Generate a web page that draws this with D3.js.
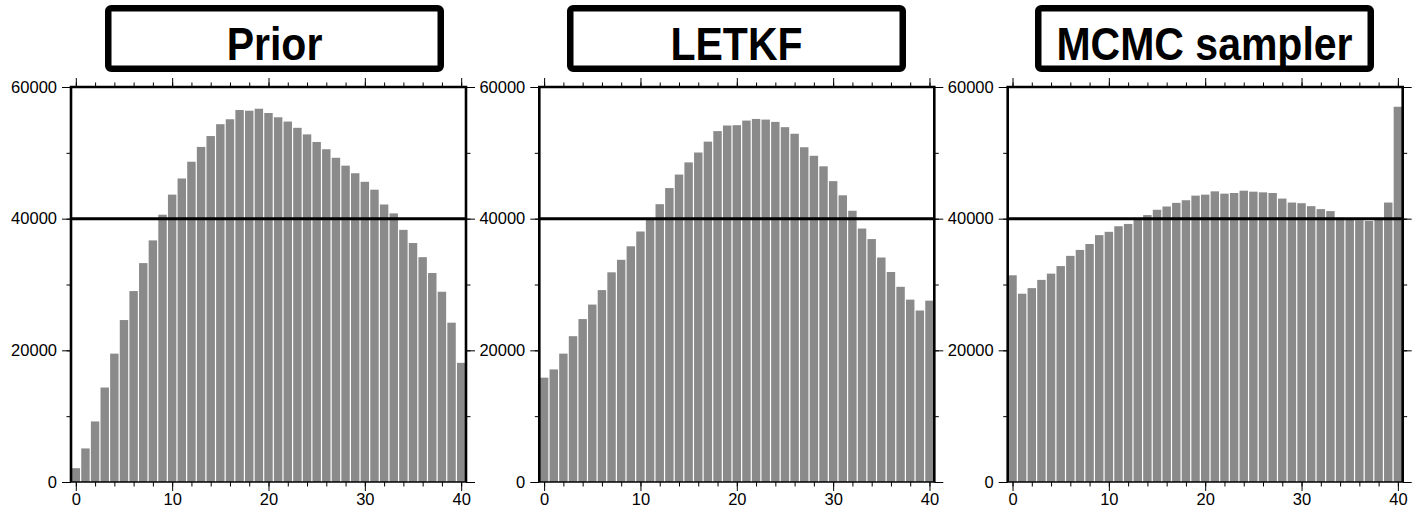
<!DOCTYPE html>
<html>
<head>
<meta charset="utf-8">
<script src="https://cdn.jsdelivr.net/npm/d3@7"></script>
<style>
  body { margin: 0; background: #fff; }
  svg { display: block; }
  text { font-family: "Liberation Sans", Arial, Helvetica, sans-serif; fill: #000; }
  .tick line { stroke: #000; stroke-width: 1; }
  .domain { display: none; }
</style>
</head>
<body>
<div id="chart"></div>
<script>
// bin indices 0..40 (rank histogram)
var bins = d3.range(0, 41);

var titles = ["Prior", "LETKF", "MCMC sampler"];

var priorCounts = [
  2100, 5100, 9200, 14350, 19500, 24600, 29000, 33250, 36700, 40600,
  43650, 46100, 48650, 50900, 52550, 54350, 55100, 56500, 56400, 56700,
  56050, 55400, 54750, 53800, 52800, 51650, 50550, 49250, 48050, 46900,
  45600, 44400, 42150, 40800, 38300, 36300, 34150, 31750, 28900, 24200,
  18100
];

var letkfCounts = [
  15850, 17100, 19500, 22150, 24750, 26950, 29150, 31850, 33750, 35800,
  38050, 40100, 42200, 44650, 46700, 48550, 50050, 51700, 53300, 54150,
  54200, 54900, 55150, 55050, 54700, 53900, 52900, 50850, 49550, 47950,
  45700, 43550, 41200, 38500, 36900, 34100, 31900, 29650, 27700, 26050,
  27550
];

var mcmcCounts = [
  31400, 28600, 29450, 30700, 31650, 32800, 34350, 35250, 36150, 37500,
  38000, 38850, 39200, 39800, 40550, 41350, 41850, 42400, 42800, 43500,
  43650, 44150, 43800, 43900, 44250, 44100, 44000, 43900, 43050, 42450,
  42350, 41900, 41450, 41150, 40150, 39950, 39750, 39650, 39850, 42450,
  57000
];

var series = [priorCounts, letkfCounts, mcmcCounts];

var xMajorTicks = [0, 10, 20, 30, 40];
var xMinorTicks = d3.range(0, 41, 2);
var yMajorTicks = [0, 20000, 40000, 60000];
var yMinorTicks = [0, 10000, 20000, 30000, 40000, 50000, 60000];
var refValue = 40000;

function init(){
    var W = 1414, H = 510;
    var panelLeft = [71, 539.3, 1007.7];
    var boxLeft = [105, 567, 1035];
    var top = 87;
    var w = 395, h = 395;

    var svg = d3.select("#chart")
        .append("svg")
        .attr("width", W)
        .attr("height", H);

    var xScale = d3.scaleLinear().domain([-0.5, 40.5]).range([0, w]);
    var yScale = d3.scaleLinear().domain([0, 60000]).range([h, 0]);

    var step = xScale(1) - xScale(0);

    series.forEach(function(counts, p){
        var g = svg.append("g")
            .attr("transform", `translate(${panelLeft[p]},${top})`);

        // bars
        g.selectAll("rect.bar")
            .data(bins)
            .enter()
            .append("rect")
            .attr("class", "bar")
            .attr("x", function(d) { return xScale(d - 0.5) + 0.6; })
            .attr("width", step - 1.2)
            .attr("y", function(d) { return yScale(counts[d]); })
            .attr("height", function(d) { return yScale(0) - yScale(counts[d]); })
            .attr("fill", "#8a8a8a");

        // reference line
        g.append("line")
            .attr("x1", 0)
            .attr("x2", w)
            .attr("y1", yScale(refValue))
            .attr("y2", yScale(refValue))
            .attr("stroke", "#000")
            .attr("stroke-width", 3);

        // axes: minor then major
        g.append("g").attr("transform", `translate(0,${h})`)
            .call(d3.axisBottom(xScale).tickValues(xMinorTicks).tickSize(4.5).tickFormat(""));
        var xb = g.append("g").attr("transform", `translate(0,${h})`)
            .call(d3.axisBottom(xScale).tickValues(xMajorTicks).tickSize(9).tickPadding(2.5));
        xb.selectAll("text").style("font-size", "16.5px");

        g.append("g")
            .call(d3.axisTop(xScale).tickValues(xMinorTicks).tickSize(4.5).tickFormat(""));
        g.append("g")
            .call(d3.axisTop(xScale).tickValues(xMajorTicks).tickSize(9).tickFormat(""));

        g.append("g")
            .call(d3.axisLeft(yScale).tickValues(yMinorTicks).tickSize(4.5).tickFormat(""));
        var yl = g.append("g")
            .call(d3.axisLeft(yScale).tickValues(yMajorTicks).tickSize(9).tickPadding(5).tickFormat(d3.format("d")));
        yl.selectAll("text").style("font-size", "16.5px");

        g.append("g").attr("transform", `translate(${w},0)`)
            .call(d3.axisRight(yScale).tickValues(yMinorTicks).tickSize(4.5).tickFormat(""));
        g.append("g").attr("transform", `translate(${w},0)`)
            .call(d3.axisRight(yScale).tickValues(yMajorTicks).tickSize(9).tickFormat(""));

        // frame
        g.append("line").attr("x1", 0).attr("x2", w).attr("y1", h).attr("y2", h)
            .attr("stroke", "#000").attr("stroke-width", 1.5);
        g.append("path")
            .attr("d", `M0,${h} V0 H${w} V${h}`)
            .attr("fill", "none")
            .attr("stroke", "#000")
            .attr("stroke-width", 2.6);

        // title box
        var bw = 339, bh = 67, sw = 6.5;
        var bx = boxLeft[p];
        svg.append("rect")
            .attr("x", bx + sw / 2)
            .attr("y", 5 + sw / 2)
            .attr("width", bw - sw)
            .attr("height", bh - sw)
            .attr("rx", 3)
            .attr("fill", "#fff")
            .attr("stroke", "#000")
            .attr("stroke-width", sw);
        svg.append("text")
            .attr("transform", `translate(${bx + bw / 2},60) scale(1,1.14)`)
            .attr("text-anchor", "middle")
            .style("font-size", "41px")
            .style("font-weight", "bold")
            .text(titles[p]);
    });
}
window.onload = init;
</script>
</body>
</html>
